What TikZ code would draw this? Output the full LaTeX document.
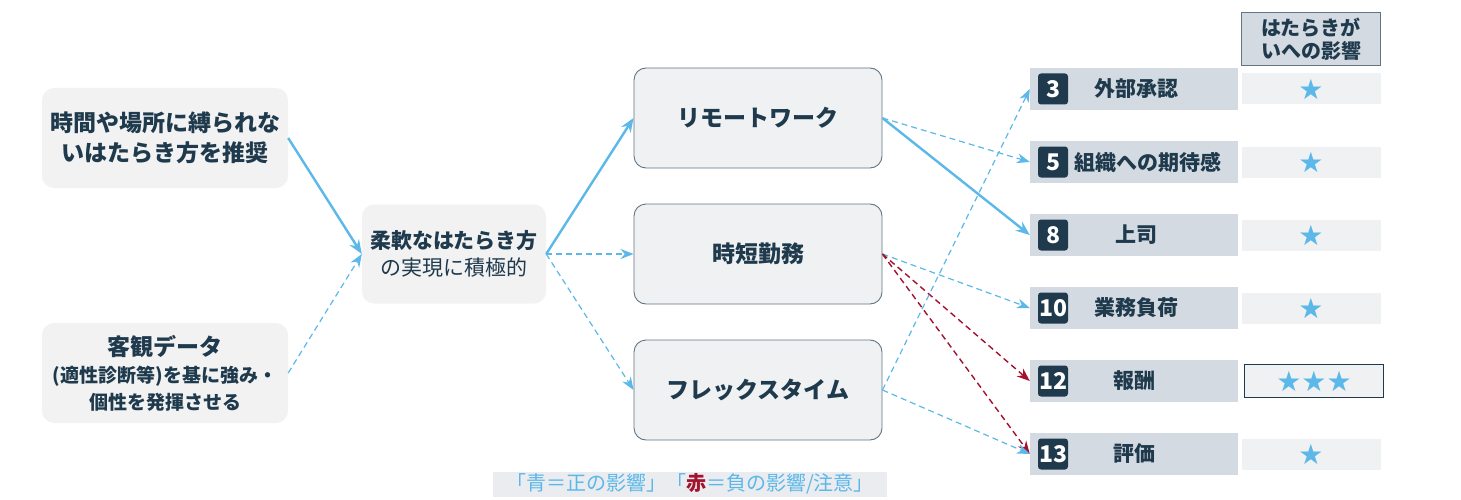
\documentclass[tikz,border=0pt]{standalone}
\usepackage{fontspec}
\setmainfont{Noto Sans CJK JP}
\newfontfamily\symfont{DejaVu Sans}
\usetikzlibrary{arrows.meta,positioning}
\definecolor{ink}{HTML}{1E3A4C}
\definecolor{pos}{HTML}{5BB8E8}
\definecolor{neg}{HTML}{A3122E}
\definecolor{cause}{HTML}{F2F2F3}
\definecolor{item}{HTML}{D4DAE1}
\definecolor{cell}{HTML}{F0F1F3}
\tikzset{
  cause/.style={fill=cause, rounded corners=12pt, minimum width=246pt, minimum height=100pt,
    align=center, text=ink, font=\fontsize{23}{30}\selectfont\bfseries},
  mid/.style={fill=cause, rounded corners=12pt, minimum width=184pt, minimum height=99pt,
    align=center, text=ink, font=\fontsize{21}{27}\selectfont},
  way/.style={fill=cell, draw=ink!70, line width=0.9pt, rounded corners=12pt, minimum width=248pt,
    minimum height=100pt, text=ink, font=\fontsize{23}{26}\selectfont\bfseries},
  item/.style={fill=item, minimum width=208pt, minimum height=42pt, text=ink,
    font=\fontsize{22}{24}\selectfont\bfseries},
  badge/.style={fill=ink, rounded corners=3pt, minimum width=30pt, minimum height=31pt,
    inner sep=0pt, text=white, font=\fontsize{23}{24}\selectfont\bfseries},
  star/.style={fill=cell, minimum width=139pt, minimum height=31pt, inner sep=0pt, text=pos,
    font=\symfont\fontsize{28}{28}\selectfont},
  good/.style={draw=pos, line width=2.4pt, -{Stealth[length=14pt,width=11pt]}},
  weak/.style={draw=pos, line width=1.2pt, dash pattern=on 6pt off 4pt, -{Stealth[length=13pt,width=10pt]}},
  bad/.style={draw=neg, line width=1.4pt, dash pattern=on 6pt off 4pt, -{Stealth[length=13pt,width=10pt]}},
}
\begin{document}
\begin{tikzpicture}[x=1pt,y=-1pt]
\useasboundingbox (0,0) rectangle (1461,500);
% causes
\node[cause] (free) at (165,138) {時間や場所に縛られな\\いはたらき方を推奨};
\node[cause] (data) at (165,373) {客観データ\\[-3pt]{\fontsize{19}{25}\selectfont(適性診断等)を基に強み・}\\[-3pt]{\fontsize{19}{25}\selectfont 個性を発揮させる}};
\node[mid] (flexwork) at (454,254) {\textbf{柔軟なはたらき方}\\の実現に積極的};
% ways of working
\node[way] (remote) at (758,118) {リモートワーク};
\node[way] (short) at (758,254) {時短勤務};
\node[way] (flextime) at (758,390) {フレックスタイム};
% header
\node[fill=item, draw=ink!70, line width=1pt, minimum width=139pt, minimum height=53pt,
  align=center, text=ink, font=\fontsize{20}{23}\selectfont\bfseries] (head) at (1311,39)
  {はたらきが\\いへの影響};
% items
\foreach \n/\y/\x/\t in {3/89/1136/外部承認, 5/162/1148/組織への期待感, 8/235/1136/上司,
    10/308/1136/業務負荷, 12/381/1134/報酬, 13/454/1134/評価}{
  \node[item] (i\n) at (1134,\y) {};
  \node[badge, right=8pt of i\n.west] (b\n) {\n};
  \node[text=ink, font=\fontsize{21}{24}\selectfont\bfseries] at (\x,\y) {\t};
}
\foreach \n/\y in {3/89, 5/162, 8/235, 10/308, 13/454}
  \node[star] (s\n) at (1311,\y) {★};
\node[star, draw=ink, line width=1.4pt, minimum height=33pt] (s12) at (1314,381) {★★★};
% connectors
\draw[good] (free.east) -- (flexwork.west);
\draw[weak] (data.east) -- (flexwork.west);
\draw[good] (flexwork.east) -- (remote.west);
\draw[weak] (flexwork.east) -- (short.west);
\draw[weak] (flexwork.east) -- (flextime.west);
\draw[weak] (remote.east) -- (i5.west);
\draw[good] (remote.east) -- (i8.west);
\draw[weak] (short.east) -- (i10.west);
\draw[bad] (short.east) -- (i12.west);
\draw[bad] (short.east) -- (i13.west);
\draw[weak] (flextime.east) -- (i3.west);
\draw[weak] (flextime.east) -- (i13.west);
% legend
\node[fill=item!50, minimum width=394pt, minimum height=25pt, inner sep=0pt,
  font=\fontsize{20}{22}\selectfont, text=pos] (legend) at (690,484)
  {「青＝正の影響」「\textcolor{neg}{\bfseries 赤}＝負の影響/注意」};
\end{tikzpicture}
\end{document}
